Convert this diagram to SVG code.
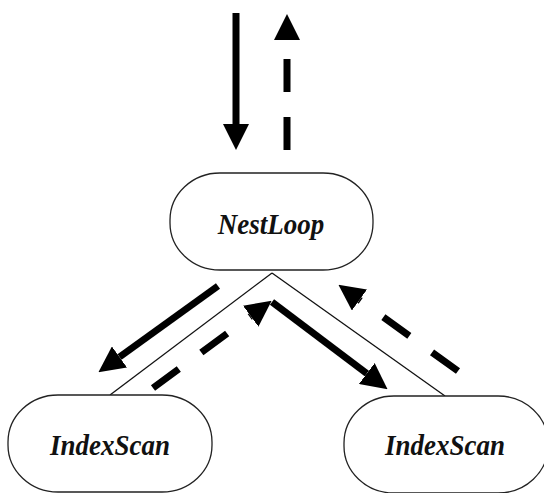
<svg xmlns="http://www.w3.org/2000/svg" width="544" height="493" viewBox="0 0 544 493">
<style>
.node rect{fill:#fff;stroke:#222;stroke-width:1.3}
.node text{font-family:"Liberation Serif",serif;font-weight:bold;font-style:italic;font-size:27px;fill:#111;text-anchor:middle}
.edge{stroke:#111;stroke-width:1.3;fill:none}
.solid{stroke:#000;stroke-width:7;fill:none;marker-end:url(#head)}
.dashed{stroke:#000;stroke-width:7;fill:none;marker-end:url(#head)}
</style>
<defs>
<marker id="head" markerUnits="userSpaceOnUse" markerWidth="26" markerHeight="26" refX="0" refY="12.5" orient="auto" viewBox="0 0 25 25">
<path d="M0,0 L25,12.5 L0,25 Z" fill="#000"/>
</marker>
</defs>
<rect width="544" height="493" fill="#fff"/>
<g id="connectors">
<line class="edge" x1="272" y1="273" x2="110" y2="395"/>
<line class="edge" x1="272" y1="273" x2="445" y2="396"/>
<line class="solid" x1="236" y1="13" x2="236" y2="124"/>
<line class="dashed" x1="287" y1="150" x2="287" y2="40" stroke-dasharray="33 25"/>
<line class="solid" x1="218" y1="286" x2="119.5" y2="357"/>
<line class="dashed" x1="153" y1="388" x2="250.7" y2="316.2" stroke-dasharray="32 28"/>
<line class="solid" x1="272" y1="302" x2="366.8" y2="373.5"/>
<line class="dashed" x1="458" y1="371" x2="359.5" y2="300" stroke-dasharray="32 28"/>
</g>
<g id="nestloop" class="node">
<rect x="170" y="173" width="203" height="97" rx="50" ry="47"/>
<text transform="translate(271,234) scale(1,1.1)">NestLoop</text>
</g>
<g id="indexscan-left" class="node">
<rect x="8" y="395" width="204" height="97" rx="50" ry="47"/>
<text transform="translate(110,455) scale(1,1.1)">IndexScan</text>
</g>
<g id="indexscan-right" class="node">
<rect x="344" y="396" width="204" height="97" rx="50" ry="47"/>
<text transform="translate(445,455) scale(1,1.1)">IndexScan</text>
</g>
</svg>
